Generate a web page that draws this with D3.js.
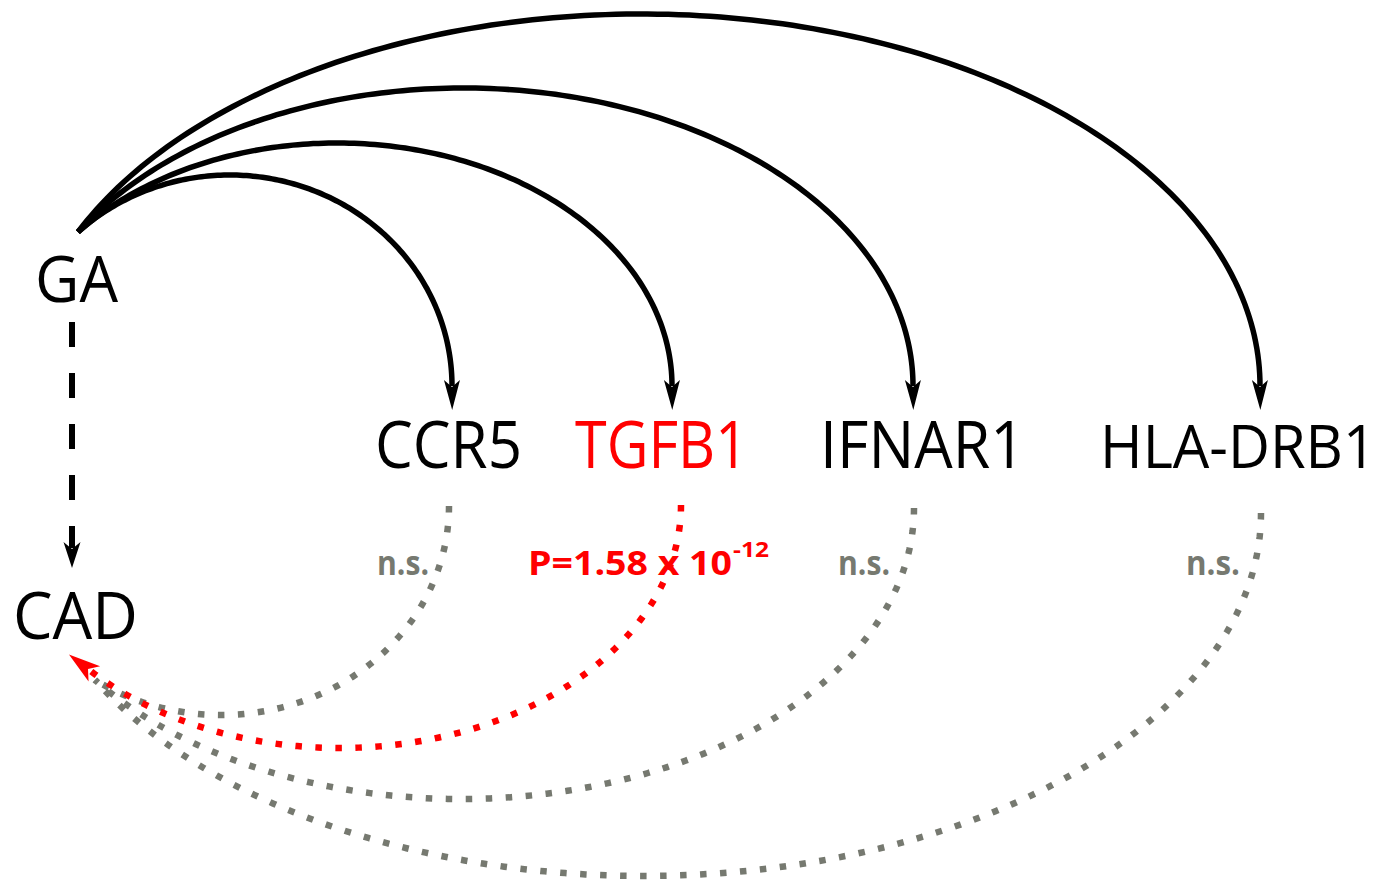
<!DOCTYPE html>
<html>
<head>
<meta charset="utf-8">
<script src="https://cdn.jsdelivr.net/npm/d3@7"></script>
<style>
  html, body { margin: 0; padding: 0; background: #ffffff; }
  svg { display: block; }
</style>
</head>
<body>
<svg id="chart" width="1399" height="882"></svg>
<script>
// ---------------- data ----------------
const exposure = "GA";
const outcome = "CAD";
const genes = ["CCR5", "TGFB1", "IFNAR1", "HLA-DRB1"];
const significant = [false, true, false, false];
const pLabels = ["n.s.", "P=1.58 x 10", "n.s.", "n.s."];
const pExponents = ["", "-12", "", ""];

// ---------------- layout ----------------
const RED = "#ff0000", GRAY = "#767970", BLACK = "#000000";
const FONT = "'Open Sans', 'Noto Sans', sans-serif";

const svg = d3.select("#chart");

// horizontal positions of the gene columns (arrow tips / dotted starts)
const x = d3.scaleOrdinal().domain(genes).range([452, 672, 913, 1260]);
const labelBox = d3.scaleOrdinal().domain(genes).range([[375, 147, 65], [575, 173, 65], [820, 205, 65], [1100, 276, 60]]);
const upperArcTop = d3.scaleOrdinal().domain(genes).range([175, 143, 88, 14]);
const dotStartX = d3.scaleOrdinal().domain(genes).range([449, 681, 914, 1261]);
const dotStartY = d3.scaleOrdinal().domain(genes).range([506, 505, 508, 513]);
const dotBottomY = d3.scaleOrdinal().domain(genes).range([715, 748, 799, 876]);
const nsBox = d3.scaleOrdinal().domain(genes).range([[377, 52], [528, 204], [838, 52], [1186, 54]]);

const gaStart = [78, 232];
const arcEndY = 386;       // where upper arcs end (arrow base)
const cadEnd = [95, 680];  // convergence of dotted arcs near CAD
const cadEndRed = [88, 669];

const defs = svg.append("defs");
function marker(id, color, d) {
  defs.append("marker")
    .attr("id", id)
    .attr("markerUnits", "userSpaceOnUse")
    .attr("viewBox", "-30 -20 60 40")
    .attr("refX", 0).attr("refY", 0)
    .attr("markerWidth", 60).attr("markerHeight", 40)
    .attr("orient", "auto")
    .append("path").attr("d", d).attr("fill", color);
}
marker("arrowBlack", BLACK, "M24,0 L-6,-8 L1,0 L-6,8 Z");
marker("arrowDash", BLACK, "M20,0 L-6,-8.5 L1,0 L-6,8.5 Z");
marker("arrowRed", RED, "M24,0 L-8,-9.5 L0,0 L-8,9.5 Z");

const line = d3.line();

function ellipsePts(cx, cy, rx, ry, a0, a1, n = 160) {
  return d3.range(n + 1).map(i => {
    const a = a0 + (a1 - a0) * i / n;
    return [cx + rx * Math.cos(a), cy + ry * Math.sin(a)];
  });
}

// ---------------- upper solid arcs GA -> gene ----------------
genes.forEach(g => {
  const tipX = x(g);
  const ry = arcEndY - upperArcTop(g);
  const s = (gaStart[1] - arcEndY) / ry;
  const k = Math.sqrt(1 - s * s);
  const rx = (tipX - gaStart[0]) / (1 + k);
  const cx = tipX - rx;
  const a0 = Math.atan2(s, (gaStart[0] - cx) / rx);
  svg.append("path")
    .attr("d", line(ellipsePts(cx, arcEndY, rx, ry, a0, 0)))
    .attr("fill", "none")
    .attr("stroke", BLACK)
    .attr("stroke-width", 5.5)
    .attr("marker-end", "url(#arrowBlack)");
});

// ---------------- lower dotted arcs gene -> CAD ----------------
genes.forEach((g, i) => {
  const sx = dotStartX(g);
  const sy = dotStartY(g);
  const ry = dotBottomY(g) - sy;
  const end = significant[i] ? cadEndRed : cadEnd;
  const s = (end[1] - sy) / ry;
  const k = Math.sqrt(1 - s * s);
  const rx = (sx - end[0]) / (1 + k);
  const cx = sx - rx;
  const a1 = Math.atan2(s, (end[0] - cx) / rx);
  const p = svg.append("path")
    .attr("d", line(ellipsePts(cx, sy, rx, ry, 0, a1)))
    .attr("fill", "none")
    .attr("stroke", significant[i] ? RED : GRAY)
    .attr("stroke-width", 6.5)
    .attr("stroke-dasharray", "6.5 13.5");
  if (significant[i]) p.attr("marker-end", "url(#arrowRed)");
});

// ---------------- dashed GA -> CAD ----------------
svg.append("path")
  .attr("d", line([[72, 322], [72, 548]]))
  .attr("fill", "none")
  .attr("stroke", BLACK)
  .attr("stroke-width", 6)
  .attr("stroke-dasharray", "25 26")
  .attr("marker-end", "url(#arrowDash)");

// ---------------- labels ----------------
function label(txt, x0, y0, w, size, color, weight) {
  svg.append("text")
    .attr("x", x0).attr("y", y0)
    .attr("font-family", FONT)
    .attr("font-size", size)
    .attr("font-weight", weight || 400)
    .attr("fill", color)
    .attr("textLength", w)
    .attr("lengthAdjust", "spacingAndGlyphs")
    .text(txt);
}
label(exposure, 35, 302, 83, 64, BLACK);
label(outcome, 13, 639, 125, 65, BLACK);

genes.forEach((g, i) => {
  const [lx, lw, ls] = labelBox(g);
  label(g, lx, 468, lw, ls, significant[i] ? RED : BLACK);
  const [nx, nw] = nsBox(g);
  label(pLabels[i], nx, 575, nw, 34, significant[i] ? RED : GRAY, 700);
  if (pExponents[i]) {
    label(pExponents[i], nx + nw + 1, 557, 36, 22, RED, 700);
  }
});
</script>
</body>
</html>
